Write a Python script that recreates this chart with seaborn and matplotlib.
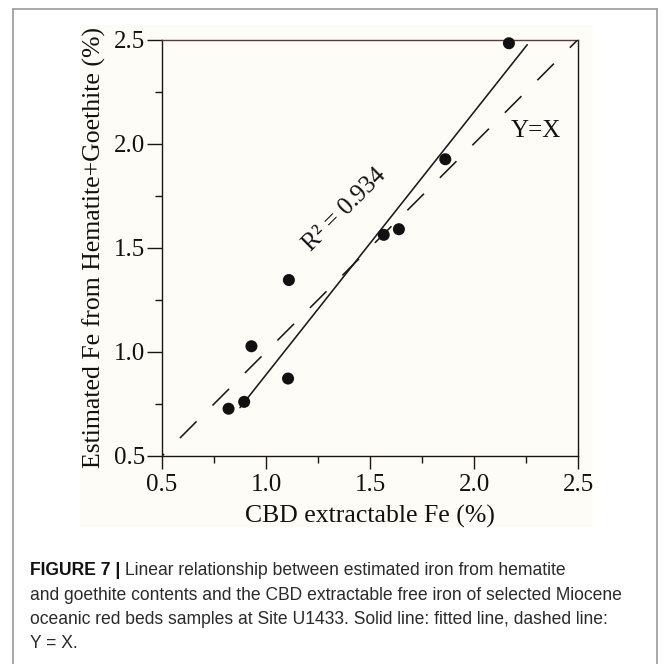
import numpy as np
import pandas as pd
import matplotlib
matplotlib.use("Agg")
import matplotlib.pyplot as plt
import seaborn as sns
from matplotlib.lines import Line2D
from matplotlib.patches import Rectangle
from matplotlib.ticker import MultipleLocator, FormatStrFormatter

# ---------------- data ----------------
cbd_fe = [0.820, 0.895, 0.930, 1.106, 1.110, 1.566, 1.639, 1.862, 2.168]
est_fe = [0.727, 0.760, 1.027, 0.872, 1.345, 1.562, 1.589, 1.925, 2.482]
fit_slope = 1.262
fit_intercept = -0.372
fit_x_range = [0.875, 2.256]
identity_range = [0.5, 2.5]
r2_value = 0.934
x_ticks = [0.5, 1.0, 1.5, 2.0, 2.5]
y_ticks = [0.5, 1.0, 1.5, 2.0, 2.5]
x_label = "CBD extractable Fe (%)"
y_label = "Estimated Fe from Hematite+Goethite (%)"
identity_label = "Y=X"
caption_bold = "FIGURE 7 |"
caption_lines = [
    "Linear relationship between estimated iron from hematite",
    "and goethite contents and the CBD extractable free iron of selected Miocene",
    "oceanic red beds samples at Site U1433. Solid line: fitted line, dashed line:",
    "Y = X.",
]

# ---------------- style ----------------
sns.set_theme(style="ticks")
plt.rcParams["font.family"] = ["Liberation Serif", "DejaVu Serif"]
plt.rcParams["lines.scale_dashes"] = False

W, H = 663, 664
fig = plt.figure(figsize=(W / 100, H / 100), dpi=100)
fig.patch.set_facecolor("white")

cream = "#fefcf6"
fig.patches.append(Rectangle((80 / W, 1 - 527 / H), (593 - 80) / W, (527 - 25) / H,
                             transform=fig.transFigure, facecolor=cream,
                             edgecolor="none", zorder=-5))

ax = fig.add_axes([162 / W, 1 - 456 / H, 416 / W, 416.5 / H])
ax.set_zorder(2)
ax.set_facecolor(cream)

df = pd.DataFrame({"cbd": cbd_fe, "est": est_fe})
fit_df = pd.DataFrame({"x": fit_x_range,
                       "y": [fit_slope * v + fit_intercept for v in fit_x_range]})
id_df = pd.DataFrame({"x": identity_range, "y": identity_range})

# 1:1 dashed line
ax.plot(id_df["x"], id_df["y"], color="#1a1a1a", lw=1.15,
        linestyle=(14.8, (16.9, 16.2)), zorder=3)
# fitted line
sns.lineplot(data=fit_df, x="x", y="y", color="#1a1a1a", lw=1.15, ax=ax,
             sort=False, estimator=None, zorder=4)
# points
sns.scatterplot(data=df, x="cbd", y="est", s=75, color="#111111",
                edgecolor="none", ax=ax, zorder=5, clip_on=False)

ax.set_xlim(identity_range)
ax.set_ylim(identity_range)
ax.set_xticks(x_ticks)
ax.set_yticks(y_ticks)
ax.xaxis.set_minor_locator(MultipleLocator(0.25))
ax.yaxis.set_minor_locator(MultipleLocator(0.25))
ax.xaxis.set_major_formatter(FormatStrFormatter("%.1f"))
ax.yaxis.set_major_formatter(FormatStrFormatter("%.1f"))

spine_col = "#1e1510"
for s in ["left", "right", "bottom"]:
    ax.spines[s].set_visible(True)
    ax.spines[s].set_color(spine_col)
    ax.spines[s].set_linewidth(1.0)
ax.spines["top"].set_visible(True)
ax.spines["top"].set_color("#5a3b35")
ax.spines["top"].set_linewidth(1.0)

ax.tick_params(axis="x", which="major", direction="out", length=9, width=1.0,
               color=spine_col, labelsize=18, pad=4, labelcolor="#111111")
ax.tick_params(axis="y", which="major", direction="out", length=11, width=1.0,
               color=spine_col, labelsize=18, pad=1, labelcolor="#111111")
ax.tick_params(which="minor", direction="out", length=5, width=1.0,
               color=spine_col)

ax.set_xlabel(x_label, fontsize=18.5, color="#111111")
ax.set_ylabel(y_label, fontsize=18.5, color="#111111")
ax.xaxis.set_label_coords(0.5, -0.118)
ax.yaxis.set_label_coords(-0.135, 0.5)

ax.text(2.298, 2.062, identity_label, ha="center", va="center",
        fontsize=18, color="#111111")
ax.text(1.38, 1.68, f"R\u00b2 = {r2_value:.3f}", ha="center", va="center",
        rotation=45, rotation_mode="anchor", fontsize=18, color="#111111")

# ---------------- frame ----------------
border = "#9a9a9a"
fig.add_artist(Line2D([13 / W, 13 / W], [0, 1 - 9 / H], transform=fig.transFigure,
                      color=border, lw=1.2))
fig.add_artist(Line2D([13 / W, 657 / W], [1 - 9 / H, 1 - 9 / H], transform=fig.transFigure,
                      color=border, lw=1.2))
fig.add_artist(Line2D([657 / W, 657 / W], [0, 1 - 9 / H], transform=fig.transFigure,
                      color=border, lw=1.2))

# ---------------- caption ----------------
cap_font = ["Liberation Sans Narrow", "Liberation Sans", "DejaVu Sans"]
fig.canvas.draw()
renderer = fig.canvas.get_renderer()
probe = fig.text(0, 0, caption_lines[1], fontsize=13, family=cap_font)
pw = probe.get_window_extent(renderer).width
probe.remove()
cap_fs = 13 * 592 / pw

x0 = 30 / W
baselines = [575, 599.5, 624, 648.5]
tb = fig.text(x0, 1 - baselines[0] / H, caption_bold, fontsize=cap_fs,
              family=cap_font, weight="bold", color="#111111", va="baseline")
bw = tb.get_window_extent(renderer).width
sp = fig.text(0, 0, "a a", fontsize=cap_fs, family=cap_font)
sw = sp.get_window_extent(renderer).width
sp2 = fig.text(0, 0, "aa", fontsize=cap_fs, family=cap_font)
sw = sw - sp2.get_window_extent(renderer).width
sp.remove(); sp2.remove()
fig.text(x0 + (bw + sw) / W, 1 - baselines[0] / H, caption_lines[0], fontsize=cap_fs,
         family=cap_font, color="#2a2a2a", va="baseline")
for line, b in zip(caption_lines[1:], baselines[1:]):
    fig.text(x0, 1 - b / H, line, fontsize=cap_fs, family=cap_font,
             color="#2a2a2a", va="baseline")

fig.savefig("out.png", dpi=100)
